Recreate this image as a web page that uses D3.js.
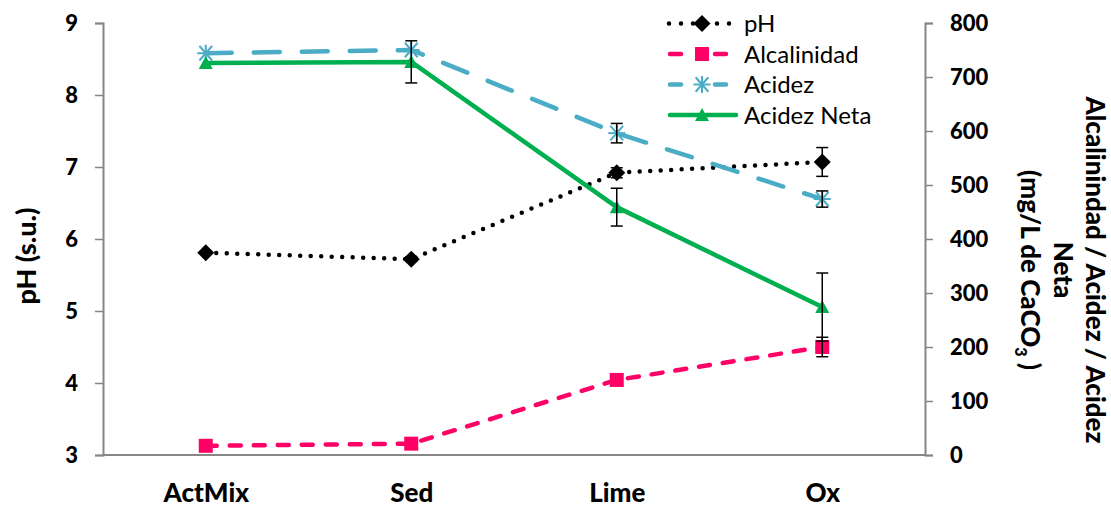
<!DOCTYPE html>
<html><head><meta charset="utf-8">
<script src="https://cdn.jsdelivr.net/npm/d3@7"></script>
<style>body{margin:0;background:#fff}svg{display:block}text{font-family:Lato,"Open Sans",sans-serif}</style>
</head><body><svg id="c" width="1111" height="508"></svg>
<script>
const categories = ["ActMix","Sed","Lime","Ox"];
const phValues = [5.81, 5.72, 6.92, 7.07];
const phErr = [0, 0.03, 0.07, 0.2];
const alcalinidad = [17, 21, 139, 200];
const alcErr = [0, 0, 0, 18];
const acidez = [744, 750, 596, 474];
const acidezErr = [0, 0, 18, 15];
const acidezNeta = [726, 728, 459, 274];
const netaErr = [0, 39, 35, 63];
const leftTicks = [3,4,5,6,7,8,9];
const rightTicks = [0,100,200,300,400,500,600,700,800];

const svg = d3.select("#c");
const L = 103, R = 925, T = 23, B = 455;
const x = d3.scalePoint().domain(categories).range([L, R]).padding(0.5);
const yL = d3.scaleLinear().domain([3, 9]).range([B, T]);
const yR = d3.scaleLinear().domain([0, 800]).range([B, T]);
const axisColor = "#868686";

// axes
const gL = svg.append("g").attr("transform", `translate(${L},0)`)
  .call(d3.axisLeft(yL).tickValues(leftTicks).tickFormat(d3.format("d")).tickSize(8).tickPadding(17));
const gR = svg.append("g").attr("transform", `translate(${R},0)`)
  .call(d3.axisRight(yR).tickValues(rightTicks).tickFormat(d3.format("d")).tickSize(8).tickPadding(17));
const gB = svg.append("g").attr("transform", `translate(0,${B})`)
  .call(d3.axisBottom(x).tickSize(0).tickPadding(29));
gB.select(".domain").attr("d", `M${L},0H${R}`);
[gL, gR, gB].forEach(g => {
  g.selectAll(".domain").attr("stroke", axisColor).attr("stroke-width", 2);
  g.selectAll(".tick line").attr("stroke", axisColor).attr("stroke-width", 1.5);
  g.selectAll(".tick text").attr("fill", "#000").attr("font-weight", 900)
    .attr("font-size", 22).attr("font-family", "Lato, sans-serif");
});
gB.selectAll(".tick text").attr("font-size", 26);

// axis titles
svg.append("text").attr("transform", `translate(36,256) rotate(-90)`)
  .attr("text-anchor", "middle").attr("font-weight", 900).attr("font-size", 27).text("pH (s.u.)");
const rt = svg.append("text").attr("transform", `translate(1086,270) rotate(90)`)
  .attr("text-anchor", "middle").attr("font-weight", 900).attr("font-size", 26);
rt.append("tspan").attr("x", 0).attr("dy", 0).text("Alcalinindad / Acidez / Acidez");
rt.append("tspan").attr("x", 0).attr("dy", 32.5).text("Neta");
const t3 = rt.append("tspan").attr("x", 0).attr("dy", 32.5);
t3.append("tspan").text("(mg/L de CaCO");
t3.append("tspan").attr("font-size", 16).attr("dy", 6).text("3");
t3.append("tspan").attr("dy", -6).text(" )");

// series definitions
const series = [
  {name:"pH", vals: phValues, err: phErr, y: yL, color:"#000000", dash:"0 10.5", marker:"diamond"},
  {name:"Alcalinidad", vals: alcalinidad, err: alcErr, y: yR, color:"#FF0066", dash:"11 13", marker:"square"},
  {name:"Acidez", vals: acidez, err: acidezErr, y: yR, color:"#4BACC6", dash:"26 22", marker:"star"},
  {name:"Acidez Neta", vals: acidezNeta, err: netaErr, y: yR, color:"#00B050", dash:null, marker:"triangle"}
];

function drawMarker(g, type, cx, cy, color) {
  if (type === "diamond") {
    g.append("path").attr("d", `M${cx},${cy-8.5}L${cx+8.5},${cy}L${cx},${cy+8.5}L${cx-8.5},${cy}Z`).attr("fill", color);
  } else if (type === "square") {
    g.append("rect").attr("x", cx-7).attr("y", cy-7).attr("width", 14).attr("height", 14).attr("fill", color);
  } else if (type === "star") {
    const r = 8.5;
    [[0,1],[1,0],[0.75,0.85],[0.75,-0.85]].forEach(([a,b]) => {
      g.append("line").attr("x1", cx-a*r).attr("y1", cy-b*r).attr("x2", cx+a*r).attr("y2", cy+b*r)
        .attr("stroke", color).attr("stroke-width", 2);
    });
  } else if (type === "triangle") {
    g.append("path").attr("d", `M${cx},${cy-7}L${cx+7},${cy+6}L${cx-7},${cy+6}Z`).attr("fill", color);
  }
}

const line = (s) => d3.line().x((d,i) => x(categories[i])).y(d => s.y(d));
series.forEach(s => {
  const p = svg.append("path").datum(s.vals).attr("d", line(s)).attr("fill", "none")
    .attr("stroke", s.color).attr("stroke-width", 4.5).attr("stroke-linecap", "round").attr("stroke-linejoin", "round");
  if (s.dash) p.attr("stroke-dasharray", s.dash);
});
// markers then error bars
series.forEach(s => {
  const g = svg.append("g");
  s.vals.forEach((v,i) => drawMarker(g, s.marker, x(categories[i]), s.y(v), s.color));
});
series.forEach(s => {
  const g = svg.append("g").attr("stroke", "#000").attr("stroke-width", 1.5);
  s.vals.forEach((v,i) => {
    const e = s.err[i]; if (!e) return;
    const cx = x(categories[i]), y1 = s.y(v + e), y2 = s.y(v - e);
    g.append("line").attr("x1", cx).attr("x2", cx).attr("y1", y1).attr("y2", y2);
    g.append("line").attr("x1", cx-6).attr("x2", cx+6).attr("y1", y1).attr("y2", y1);
    g.append("line").attr("x1", cx-6).attr("x2", cx+6).attr("y1", y2).attr("y2", y2);
  });
});

// legend
const lg = svg.append("g");
series.forEach((s,i) => {
  const yy = 23.5 + i*30.5;
  const l = lg.append("line").attr("y1", yy).attr("y2", yy)
    .attr("stroke", s.color).attr("stroke-width", 4.5).attr("stroke-linecap", "round");
  if (s.marker === "diamond") l.attr("x1", 669).attr("x2", 730).attr("stroke-dasharray", "0 12");
  else if (s.marker === "triangle") l.attr("x1", 670).attr("x2", 736);
  else l.attr("x1", 670).attr("x2", 727).attr("stroke-dasharray", "11 34");
  drawMarker(lg, s.marker, 702, yy, s.color);
  lg.append("text").attr("x", 744).attr("y", yy + 8.5).attr("font-size", 24).text(s.name);
});
</script></body></html>
